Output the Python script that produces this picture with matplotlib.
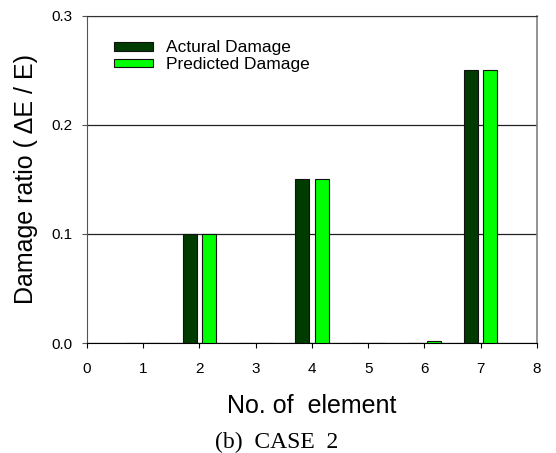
import numpy as np
import matplotlib
matplotlib.use("Agg")
from matplotlib import pyplot as plt

elements = [1, 2, 3, 4, 5, 6, 7]
actual = [0.0, 0.10, 0.0, 0.15, 0.0, 0.0, 0.25]
predicted = [0.0, 0.10, 0.0, 0.15, 0.0, 0.002, 0.25]

plt.rcParams['font.family'] = ['Liberation Sans', 'DejaVu Sans']

fig = plt.figure(figsize=(5.56, 4.53), dpi=100)
ax = fig.add_axes([0.1565, 0.2428, 0.809, 0.722])

x = np.array(elements)
w = 0.25
ax.bar(x - 0.175, actual, w, color='#003c00', edgecolor='#111111', linewidth=0.8,
       label='Actural Damage', zorder=3)
ax.bar(x + 0.175, predicted, w, color='#00ff00', edgecolor='#111111', linewidth=0.8,
       label='Predicted Damage', zorder=3)

ax.set_xlim(0, 8)
ax.set_ylim(0, 0.3)
ax.set_xticks(range(0, 9))
ax.set_yticks([0.0, 0.1, 0.2, 0.3])
ax.set_yticklabels(['0.0', '0.1', '0.2', '0.3'])
ax.yaxis.grid(True, color='#222222', linewidth=0.9, zorder=1)
ax.tick_params(axis='x', direction='out', labelsize=11, length=3.6, width=0.8, pad=10)
ax.tick_params(axis='y', direction='out', labelsize=11, length=3.6, width=0.8, pad=7,
               color='#555555')
ax.spines['left'].set_color('#555555')
ax.spines['top'].set_color('#333333')
ax.spines['right'].set_color('#808080')
ax.spines['right'].set_linewidth(1.2)

ax.set_xlabel('No. of  element', fontsize=18, va='baseline')
ax.xaxis.set_label_coords(0.5, -0.213)
ax.set_ylabel('Damage ratio ( ΔE / E)', fontsize=18)
ax.yaxis.set_label_coords(-0.108, 0.5)

ax.legend(loc='upper left', bbox_to_anchor=(0.06, 0.925), frameon=False,
          fontsize=12.5, handlelength=2.24, handleheight=0.4, handletextpad=0.75,
          labelspacing=0.1, borderpad=0, borderaxespad=0)

fig.text(0.497, 0.012, '(b)  CASE  2', fontsize=17, family='Liberation Serif',
         ha='center', va='baseline')

fig.savefig('out.png', dpi=100)
